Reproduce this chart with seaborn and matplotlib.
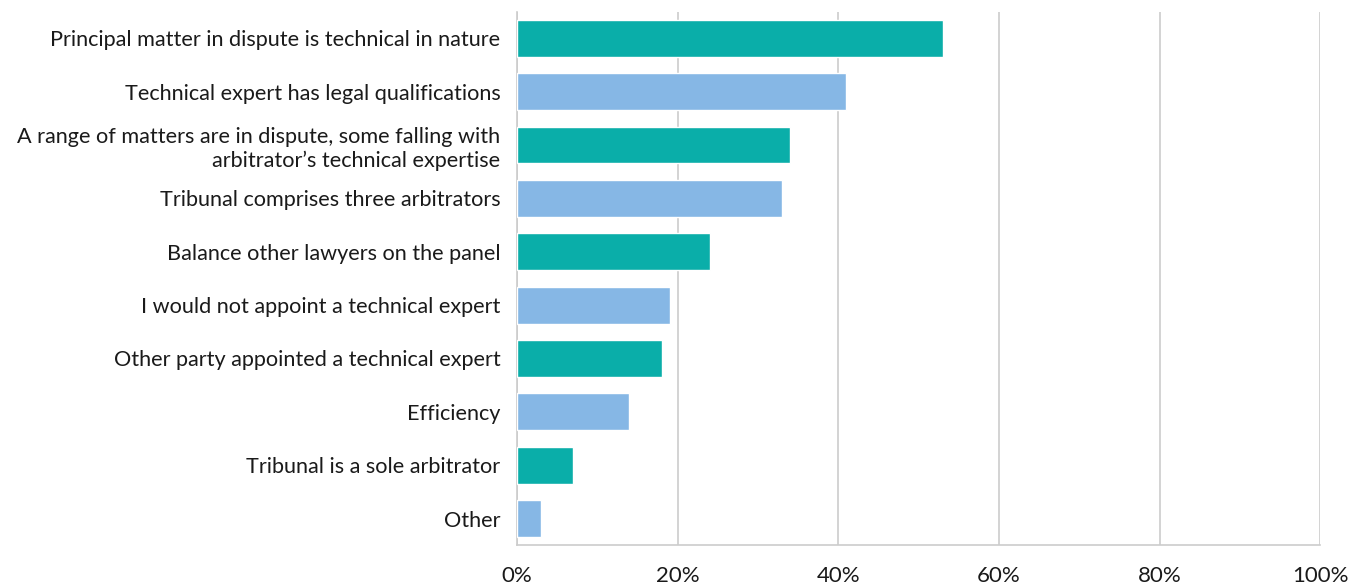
import matplotlib
matplotlib.use("Agg")
import matplotlib.pyplot as plt
import seaborn as sns
import pandas as pd

categories = [
    "Principal matter in dispute is technical in nature",
    "Technical expert has legal qualifications",
    "A range of matters are in dispute, some falling with\narbitrator\u2019s technical expertise",
    "Tribunal comprises three arbitrators",
    "Balance other lawyers on the panel",
    "I would not appoint a technical expert",
    "Other party appointed a technical expert",
    "Efficiency",
    "Tribunal is a sole arbitrator",
    "Other",
]
values = [53, 41, 34, 33, 24, 19, 18, 14, 7, 3]
teal = "#0AAEA9"
light_blue = "#86B7E5"
colors = [teal if i % 2 == 0 else light_blue for i in range(len(categories))]
xticks = [0, 20, 40, 60, 80, 100]
xticklabels = ["0%", "20%", "40%", "60%", "80%", "100%"]

sns.set_style("white")
plt.rcParams['font.family'] = ['Lato', 'DejaVu Sans']

df = pd.DataFrame({"cat": categories, "val": values})

fig, ax = plt.subplots(figsize=(13.64, 5.85), dpi=100)
fig.subplots_adjust(left=0.379, right=0.968, top=0.98, bottom=0.068)

sns.barplot(data=df, x="val", y="cat", hue="cat", palette=colors, legend=False,
            width=0.69, ax=ax, zorder=3, saturation=1)

ax.set_xlim(0, 100)
ax.set_xticks(xticks)
ax.set_xticklabels(xticklabels, fontsize=16, color="#1a1a1a")
ax.tick_params(axis="x", length=0, pad=15)
ax.tick_params(axis="y", length=0, pad=12, labelsize=15.6, labelcolor="#1a1a1a")
ax.set_xlabel("")
ax.set_ylabel("")
ax.xaxis.grid(True, color="#cccccc", linewidth=1.2, zorder=0)
ax.yaxis.grid(False)
for s in ["top", "right"]:
    ax.spines[s].set_visible(False)
for s in ["left", "bottom"]:
    ax.spines[s].set_color("#cccccc")
    ax.spines[s].set_linewidth(1.2)
for lbl in ax.get_yticklabels():
    lbl.set_horizontalalignment("right")
    lbl.set_multialignment("right")

fig.savefig("out.png", dpi=100)
